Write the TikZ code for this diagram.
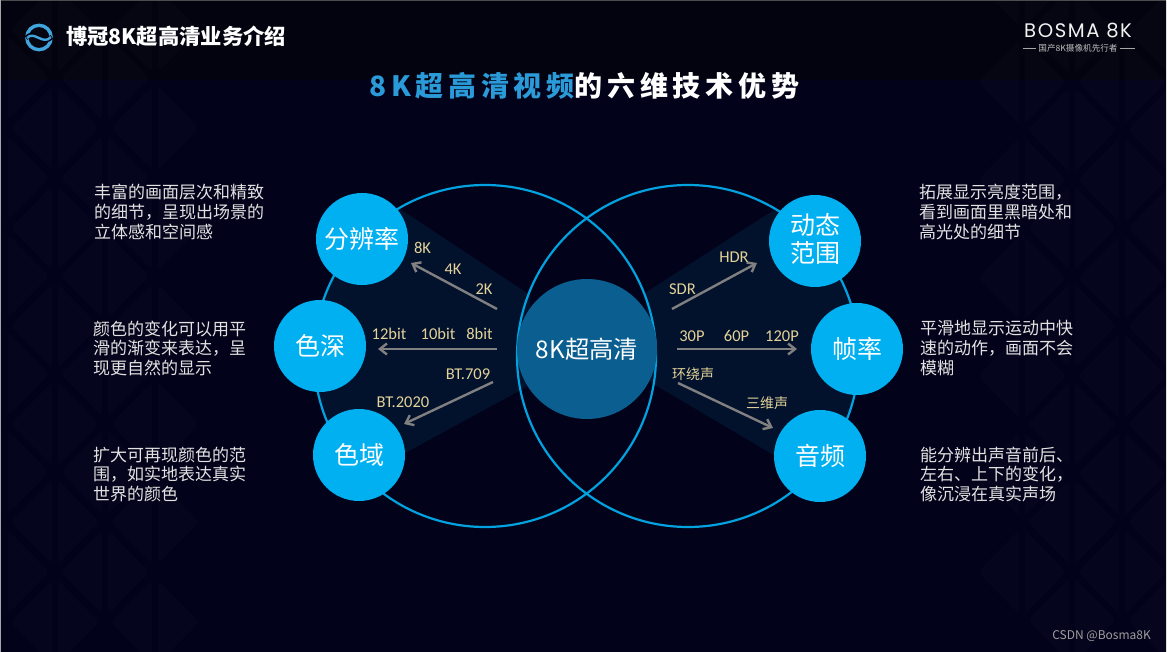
\documentclass[tikz,border=0pt]{standalone}
\usepackage{fontspec}
\setmainfont{Noto Sans CJK SC}
\newfontfamily\titlefont[LetterSpace=17]{Noto Sans CJK SC}
\newfontfamily\latinfont{Carlito}
\newfontfamily\brandfont[LetterSpace=8]{Poppins}
\usepackage{xcolor}
\usetikzlibrary{arrows.meta,positioning}
\definecolor{figback}{HTML}{02021A}
\definecolor{figband}{HTML}{03030F}
\definecolor{figwedge}{HTML}{02112C}
\definecolor{figcyan}{HTML}{00B0F0}
\definecolor{figring}{HTML}{00A3E0}
\definecolor{figcore}{HTML}{0B5F90}
\definecolor{figtitle}{HTML}{2A9BD8}
\definecolor{figlabel}{HTML}{E3D39A}
\definecolor{figarrow}{HTML}{808080}
\definecolor{figtext}{HTML}{E2E2E2}

\begin{document}
\begin{tikzpicture}[x=1pt,y=-1pt,
  feature/.style={circle, fill=figcyan, minimum size=92pt, inner sep=0pt, text=white, align=center,
                  font=\fontsize{25}{29}\selectfont},
  core/.style={circle, fill=figcore, minimum size=140pt, inner sep=0pt, text=white,
               font=\fontsize{24.3}{29}\selectfont},
  note/.style={anchor=north west, align=left, inner sep=0pt, text=figtext,
               font=\fontsize{17}{19.8}\selectfont},
  lbl/.style={text=figlabel, inner sep=0pt, font=\latinfont\fontsize{16.5}{18}\selectfont},
  cjklbl/.style={text=figlabel, inner sep=0pt, font=\fontsize{14}{16}\selectfont},
  flow/.style={draw=figarrow, line width=2.4pt, -{Straight Barb[length=7pt,width=11pt,line width=2.4pt]}},
  ring/.style={draw=figring, line width=2.2pt},
  tile/.style={fill=white, fill opacity=0.017, rounded corners=4pt}]
\useasboundingbox (0,0) rectangle (1167,652);
\fill[figback] (0,0) rectangle (1167,652);
\fill[figband] (0,0) rectangle (1167,80);
% backdrop tiles
\foreach \tx/\ty in {55/30,155/30,55/128,155/128,55/228,155/228,55/326,155/326,55/424,155/424,55/522,155/522,55/622,155/622,
                     5/78,105/78,5/178,105/178,5/276,105/276,5/374,105/374,5/472,105/472,5/572,105/572,
                     1022/-16,1022/82,1022/180,1022/278,1022/376,1022/474,1022/572,
                     1122/82,1122/180,1122/278,1122/376,1122/474,1122/572,
                     1072/32,1072/130,1072/228,1072/326,1072/424,1072/522,1072/620,
                     1172/32,1172/130,1172/228,1172/326,1172/424,1172/522,1172/620}{
  \fill[tile] (\tx-3,\ty-42) -- (\tx-3,\ty+42) -- (\tx-44,\ty) -- cycle;
  \fill[tile] (\tx+3,\ty-42) -- (\tx+3,\ty+42) -- (\tx+44,\ty) -- cycle;
}
\fill[black!70] (0,0) rectangle (1167,1.5);
\fill[black!35] (0,0) rectangle (1,652);
\fill[black!12] (1165.5,0) rectangle (1167,652);
% wedges
\begin{scope}
  \clip (485,356) circle (171);
  \fill[figwedge] (300,209) -- (400,209) -- (530,295) -- (530,385) -- (407,452) -- (300,452) -- cycle;
\end{scope}
\begin{scope}
  \clip (688,356) circle (171);
  \fill[figwedge] (645,293) -- (777,208) -- (880,208) -- (880,457) -- (777,457) -- (650,382) -- cycle;
\end{scope}
\draw[ring] (485,356) circle (171);
\draw[ring] (688,356) circle (171);
\node[core] (centre) at (587,349) {8K超高清};
\node[feature] (res)   at (362,239) {分辨率};
\node[feature] (depth) at (320,346) {色深};
\node[feature] (gamut) at (359,455) {色域};
\node[feature, text depth=6pt] (hdr)   at (815,241) {动态\\[-1pt]范围};
\node[feature] (fps)   at (857,349) {帧率};
\node[feature] (sound) at (820,456) {音频};
% arrows
\coordinate (restail) at (497,309);   \coordinate (restip) at (411,263);
\coordinate (depthtail) at (497,349); \coordinate (depthtip) at (378,349);
\coordinate (gamuttail) at (493,382); \coordinate (gamuttip) at (404,424);
\coordinate (hdrtail) at (672,309);   \coordinate (hdrtip) at (757,263);
\coordinate (fpstail) at (677,349);   \coordinate (fpstip) at (797,349);
\coordinate (soundtail) at (678,383); \coordinate (soundtip) at (773,428);
\draw[flow] (restail) -- (restip);
\draw[flow] (depthtail) -- (depthtip);
\draw[flow] (gamuttail) -- (gamuttip);
\draw[flow] (hdrtail) -- (hdrtip);
\draw[flow] (fpstail) -- (fpstip);
\draw[flow] (soundtail) -- (soundtip);
\node[lbl] (l8k)  at (422.5,248) {8K};
\node[lbl] (l4k)  at (453,269) {4K};
\node[lbl] (l2k)  at (484,289) {2K};
\node[lbl] (l12)  at (389,334) {12bit};
\node[lbl] (l10)  at (438,334) {10bit};
\node[lbl] (l8)   at (479.5,334) {8bit};
\node[lbl] (l709) at (468,374) {BT.709};
\node[lbl] (l2020) at (403,402) {BT.2020};
\node[lbl] (lsdr) at (682.5,289) {SDR};
\node[lbl] (lhdr) at (734,257) {HDR};
\node[lbl] (l30)  at (692,336) {30P};
\node[lbl] (l60)  at (736.5,336) {60P};
\node[lbl] (l120) at (782,336) {120P};
\node[cjklbl] (lsur) at (693,374) {环绕声};
\node[cjklbl] (l3d)  at (767,403) {三维声};
% side notes
\node[note] (nres)   at (94,184) {丰富的画面层次和精致\\的细节，呈现出场景的\\立体感和空间感};
\node[note] (ndepth) at (93,320.5) {颜色的变化可以用平\\滑的渐变来表达，呈\\现更自然的显示};
\node[note] (ngamut) at (93,446.5) {扩大可再现颜色的范\\围，如实地表达真实\\世界的颜色};
\node[note] (nhdr)   at (919,184) {拓展显示亮度范围，\\看到画面里黑暗处和\\高光处的细节};
\node[note] (nfps)   at (920,320.5) {平滑地显示运动中快\\速的动作，画面不会\\模糊};
\node[note] (nsound) at (920,446.5) {能分辨出声音前后、\\左右、上下的变化，\\像沉浸在真实声场};
% header
\draw[figtitle!90, line width=3.4pt] (39,37.5) circle (12.2);
\draw[figband, line width=4.6pt] (26,38) .. controls (34,29) and (43,46) .. (52,37);
\draw[figtitle!90, line width=2.4pt] (27,38) .. controls (34,30) and (43,46) .. (51,37);
\node[anchor=west, inner sep=0pt, text=white, font=\bfseries\fontsize{21.3}{26}\selectfont] (head) at (66,36.5) {博冠8K超高清业务介绍};
\node[anchor=west, inner sep=0pt, font=\titlefont\bfseries\fontsize{28}{32}\selectfont] (title) at (369,86)
  {\textcolor{figtitle}{8K超高清视频}\textcolor{white}{的六维技术优势}};
\node[anchor=west, inner sep=0pt, text=black!5, font=\brandfont\fontsize{19.6}{24}\selectfont] (brand) at (1024,31) {BOSMA 8K};
\node[inner sep=0pt, text=black!25, font=\fontsize{8.6}{10}\selectfont] (tag) at (1078,48) {国产8K摄像机先行者};
\coordinate (tagl) at (1023,48); \coordinate (tagr) at (1135,48);
\draw[black!35, line width=0.7pt] (tagl) -- ([xshift=-2pt]tag.west);
\draw[black!35, line width=0.7pt] ([xshift=2pt]tag.east) -- (tagr);
\node[anchor=east, inner sep=0pt, text=black!38, font=\fontsize{12}{14}\selectfont] (mark) at (1151,636) {CSDN @Bosma8K};
\end{tikzpicture}
\end{document}
